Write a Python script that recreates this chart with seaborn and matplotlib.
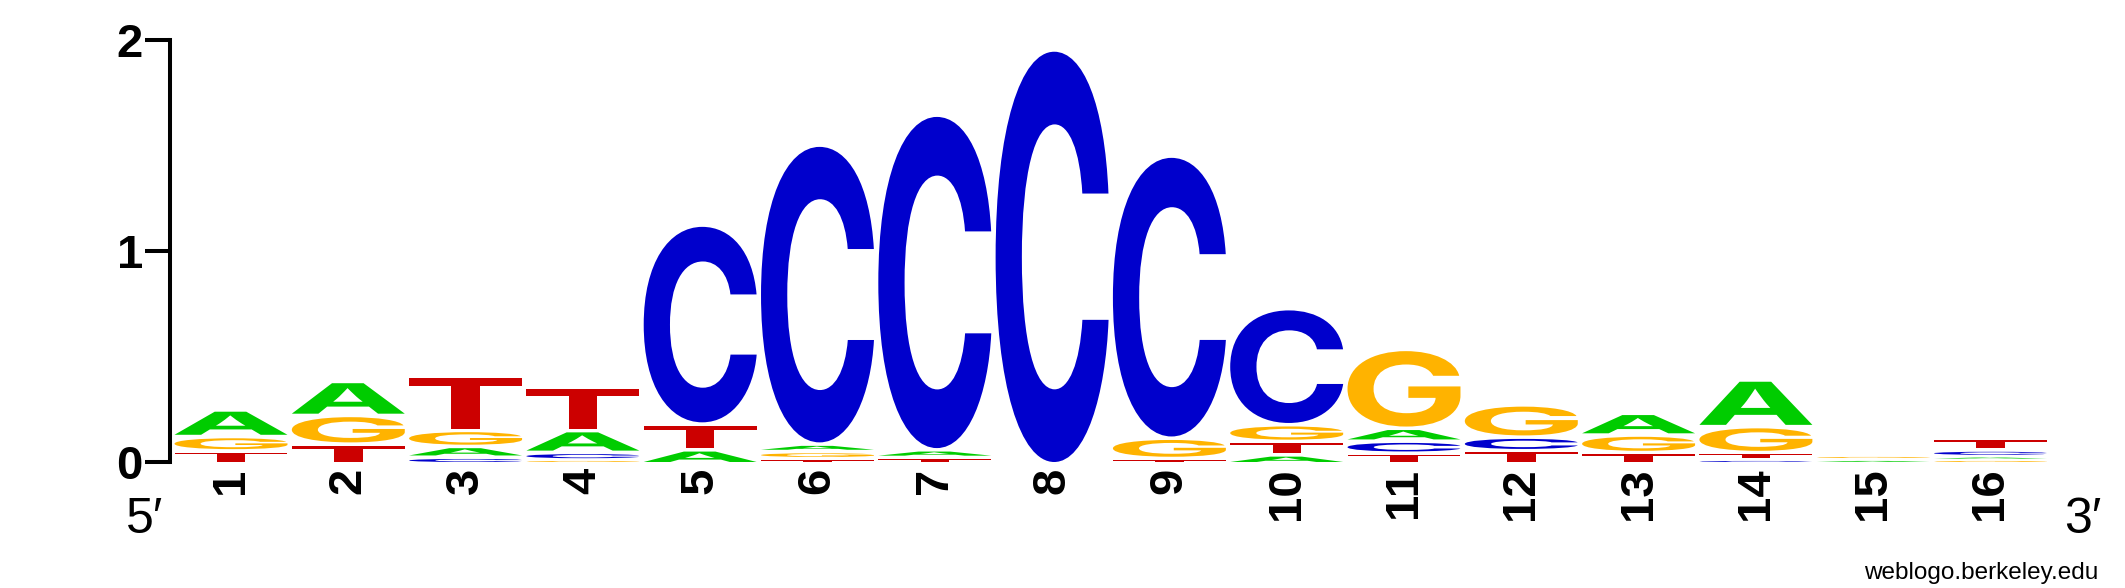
import numpy as np
import matplotlib
matplotlib.use("Agg")
import matplotlib.pyplot as plt
import seaborn as sns
from matplotlib.textpath import TextPath
from matplotlib.font_manager import FontProperties
from matplotlib.patches import PathPatch
from matplotlib.path import Path

# information content (bits) per base at each position
positions = list(range(1, 17))
bits_A = [0.126, 0.161, 0.051, 0.103, 0.066, 0.035, 0.036, 0, 0, 0.042, 0.061, 0, 0.103, 0.221, 0.019, 0.018]
bits_C = [0, 0, 0.031, 0.036, 0.943, 1.417, 1.586, 1.961, 1.337, 0.550, 0.057, 0.064, 0, 0.018, 0, 0.031]
bits_G = [0.068, 0.136, 0.076, 0.018, 0, 0.034, 0, 0, 0.096, 0.079, 0.374, 0.153, 0.083, 0.123, 0.021, 0.016]
bits_T = [0.061, 0.093, 0.259, 0.205, 0.122, 0.024, 0.030, 0, 0.025, 0.064, 0.050, 0.062, 0.053, 0.035, 0, 0.055]

base_colors = {'A': '#00cc00', 'C': '#0000cc', 'G': '#ffb300', 'T': '#cc0000'}

sns.set_style("ticks")
plt.rcParams['font.family'] = ['Liberation Sans', 'DejaVu Sans']
plt.rcParams['text.color'] = 'black'
plt.rcParams['xtick.color'] = 'black'
plt.rcParams['ytick.color'] = 'black'

# helvetica-like glyphs (flat terminals on C/G)
glyph_font = FontProperties(family='Inter', weight='bold')


def draw_letter(ax, ch, xc, y, w, h, color):
    tp = TextPath((0, 0), ch, size=1, prop=glyph_font)
    bb = tp.get_extents()
    v = tp.vertices.copy()
    v[:, 0] = (v[:, 0] - bb.x0) / bb.width * w + xc - w / 2
    v[:, 1] = (v[:, 1] - bb.y0) / bb.height * h + y
    ax.add_patch(PathPatch(Path(v, tp.codes), facecolor=color, edgecolor='none', lw=0))


fig = plt.figure(figsize=(21.25, 5.88), dpi=100)
ax = fig.add_axes([170 / 2125, 126 / 588, 1890 / 2125, 422 / 588])

gap = 0.0166
letter_w = 0.963
for i, pos in enumerate(positions):
    stack = [('A', bits_A[i]), ('C', bits_C[i]), ('G', bits_G[i]), ('T', bits_T[i])]
    stack = sorted([s for s in stack if s[1] > 0], key=lambda s: s[1])
    y = 0.0
    for ch, h in stack:
        ink = max(h - gap, 0.005)
        draw_letter(ax, ch, pos, y, letter_w, ink, base_colors[ch])
        y += h

ax.set_xlim(0.48, 0.48 + 1890 / 117.3)
ax.set_ylim(0, 2)
ax.set_yticks([0, 1, 2])
ax.set_yticklabels(['0', '1', '2'], fontsize=34, fontweight='bold')
ax.set_xticks(positions)
ax.set_xticklabels([str(p) for p in positions], fontsize=34, fontweight='bold', rotation=90)
ax.tick_params(axis='y', length=18, width=2.9, pad=1.5, direction='out', color='black', labelcolor='black')
ax.tick_params(axis='x', length=0, pad=4, labelcolor='black')
ax.minorticks_off()
sns.despine(ax=ax, bottom=True)
ax.spines['left'].set_linewidth(2.9)
ax.spines['left'].set_color('black')

fig.text(145 / 2125, 1 - 520 / 588, '5\u2032', fontsize=36, ha='center', va='center')
fig.text(2083 / 2125, 1 - 520 / 588, '3\u2032', fontsize=36, ha='center', va='center')
fig.text(2098 / 2125, 1 - 584 / 588, 'weblogo.berkeley.edu', fontsize=17.5, ha='right', va='bottom')

fig.savefig('out.png', dpi=100)
